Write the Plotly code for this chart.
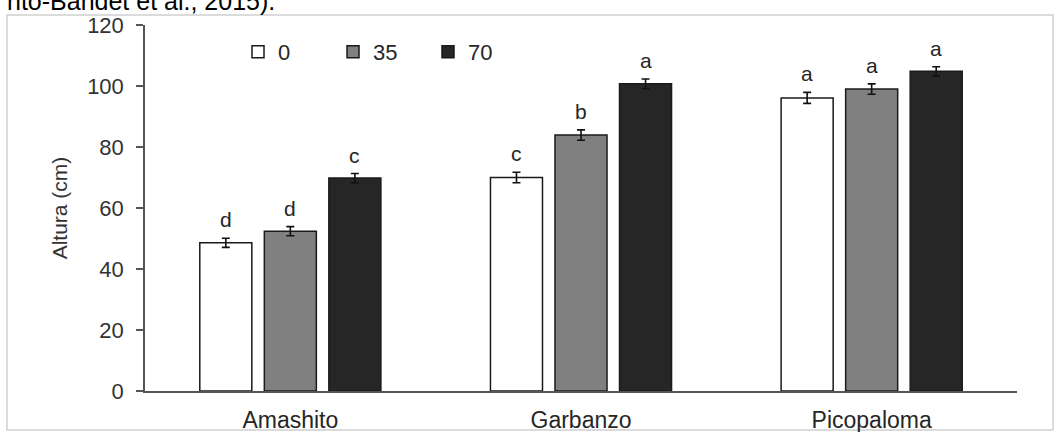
import plotly.graph_objects as go

categories = ["Amashito", "Garbanzo", "Picopaloma"]
series_names = ["0", "35", "70"]
values = {
    "0": [48.6, 70.0, 96.1],
    "35": [52.4, 83.9, 99.0],
    "70": [69.8, 100.7, 104.8],
}
errors = {
    "0": [1.5, 1.7, 1.8],
    "35": [1.5, 1.7, 1.7],
    "70": [1.5, 1.6, 1.5],
}
letters = {
    "0": ["d", "c", "a"],
    "35": ["d", "b", "a"],
    "70": ["c", "a", "a"],
}
y_ticks = [0, 20, 40, 60, 80, 100, 120]

colors = {"0": "#ffffff", "35": "#808080", "70": "#262626"}
bar_width = 0.179
offsets = {"0": -0.222 - bar_width / 2, "35": 0 - bar_width / 2, "70": 0.222 - bar_width / 2}

font_family = "Liberation Sans, Arial, sans-serif"
xpos = list(range(len(categories)))

fig = go.Figure()
for s in series_names:
    fig.add_trace(go.Bar(
        x=xpos, y=values[s], name=s,
        width=bar_width, offset=offsets[s],
        marker=dict(color=colors[s], line=dict(color="#1a1a1a", width=1.5)),
        error_y=dict(type="data", array=errors[s], color="#111111", thickness=1.6, width=4),
    ))
    for i, cat in enumerate(categories):
        fig.add_annotation(
            x=xpos[i] + offsets[s] + bar_width / 2, y=values[s][i] + errors[s][i],
            text=letters[s][i], showarrow=False, yanchor="bottom", yshift=5,
            font=dict(family=font_family, size=21, color="#262626"),
        )

# cut-off caption text at top of the image
fig.add_annotation(
    xref="paper", yref="paper", x=(277 - 145) / 872, y=(391 - 1) / 366,
    xanchor="right", yanchor="middle", showarrow=False,
    text="nto-Bandet et al., 2015).",
    font=dict(family=font_family, size=25, color="#000000"),
)

# outer frame
fig.add_shape(
    type="rect", xref="paper", yref="paper",
    x0=(7 - 145) / 872, x1=(1053 - 145) / 872,
    y0=(391 - 430) / 366, y1=(391 - 15) / 366,
    line=dict(color="#d0d0d0", width=1.5), fillcolor="rgba(0,0,0,0)", layer="below",
)

fig.update_layout(
    width=1058, height=432,
    margin=dict(l=145, r=41, t=25, b=41, autoexpand=False),
    paper_bgcolor="white", plot_bgcolor="white",
    barmode="overlay",
    font=dict(family=font_family, size=22, color="#333333"),
    showlegend=True,
    legend=dict(
        orientation="h", x=(238 - 145) / 872, y=(391 - 52) / 366,
        xanchor="left", yanchor="middle",
        font=dict(family=font_family, size=22, color="#262626"),
        entrywidth=50, entrywidthmode="pixels",
        bgcolor="rgba(0,0,0,0)", itemclick=False,
    ),
    xaxis=dict(
        range=[-0.5, 2.5], tickvals=xpos, ticktext=categories,
        showline=True, linecolor="#555555", linewidth=1.5,
        ticks="", showgrid=False, zeroline=False, automargin=False,
        ticklabelstandoff=8,
        tickfont=dict(family=font_family, size=23, color="#262626"),
    ),
    yaxis=dict(
        range=[0, 120], tickvals=y_ticks,
        showline=True, linecolor="#555555", linewidth=1.5,
        ticks="outside", ticklen=7, tickcolor="#555555", tickwidth=1.5,
        showgrid=False, zeroline=False, ticklabelstandoff=8, automargin=False,
        tickfont=dict(family=font_family, size=22, color="#333333"),
        title=dict(text="Altura (cm)", font=dict(family=font_family, size=21, color="#333333"), standoff=14),
    ),
)

fig.write_html("out.html")
